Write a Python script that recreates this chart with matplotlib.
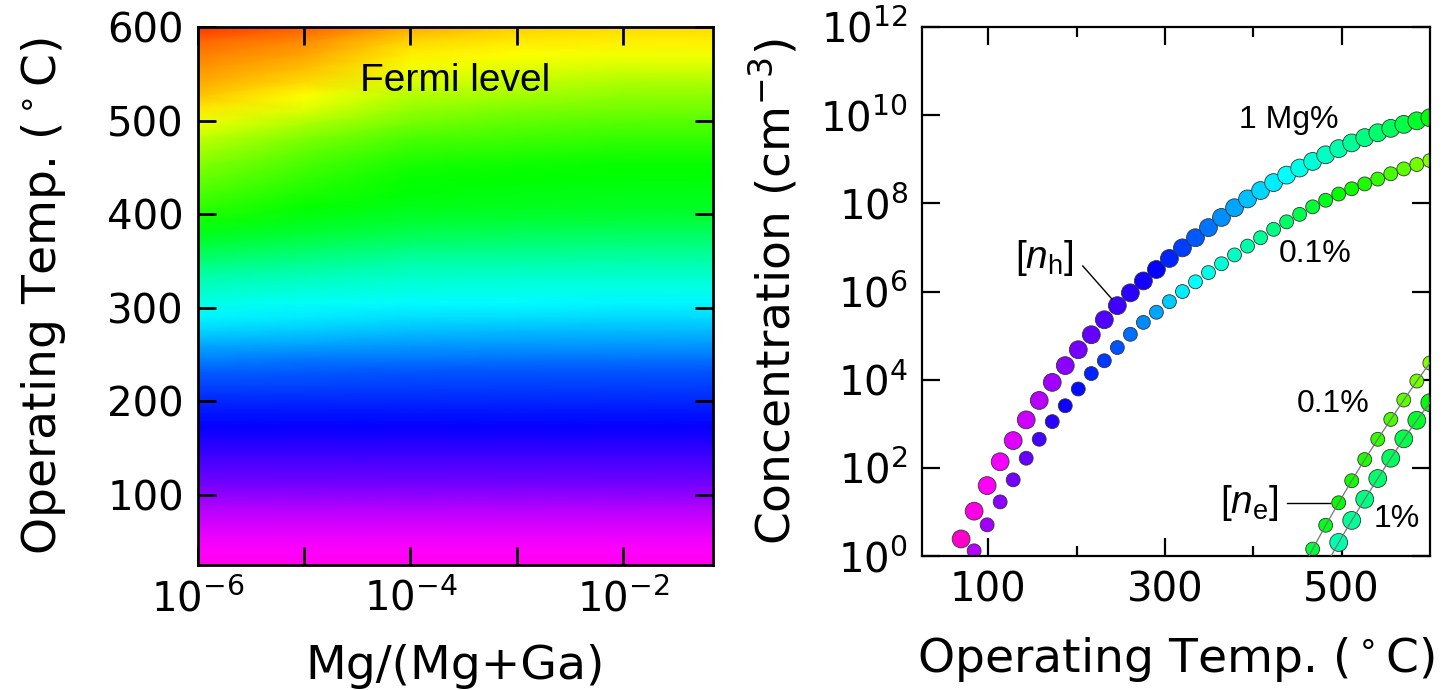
import numpy as np
import matplotlib
matplotlib.use('Agg')
from matplotlib import pyplot as plt
from matplotlib import ticker

plt.rcParams['font.family'] = 'DejaVu Sans'
plt.rcParams['mathtext.fontset'] = 'dejavusans'
plt.rcParams['mathtext.rm'] = 'Liberation Sans'
plt.rcParams['mathtext.it'] = 'Liberation Sans:italic'

# temperature grid shared by both panels (deg C)
temps = np.linspace(25, 600, 40)

# --- Fermi level map (eV), one column per Mg fraction ---
mg_frac = [1e-6, 1e-5, 1e-4, 1e-3, 1e-2, 7e-2]
ef_low = [0.035, 0.045, 0.06, 0.08, 0.10, 0.125, 0.15, 0.17, 0.19, 0.21, 0.23, 0.245, 0.26]
ef_1e6 = ef_low + [0.28, 0.30, 0.325, 0.355, 0.385, 0.41, 0.43, 0.455, 0.48, 0.515, 0.55, 0.58, 0.61, 0.635,
                   0.655, 0.675, 0.695, 0.715, 0.74, 0.77, 0.80, 0.825, 0.845, 0.86, 0.875, 0.895, 0.93]
ef_1e5 = ef_low + [0.278, 0.295, 0.32, 0.348, 0.375, 0.40, 0.42, 0.443, 0.465, 0.497, 0.53, 0.56, 0.585, 0.605,
                   0.62, 0.635, 0.65, 0.67, 0.695, 0.725, 0.76, 0.785, 0.81, 0.83, 0.85, 0.87, 0.90]
ef_1e4 = ef_low + [0.276, 0.292, 0.317, 0.342, 0.368, 0.393, 0.413, 0.434, 0.455, 0.48, 0.51, 0.54, 0.565, 0.585,
                   0.594, 0.605, 0.616, 0.634, 0.656, 0.68, 0.705, 0.73, 0.755, 0.775, 0.795, 0.815, 0.845]
ef_1e3 = ef_low + [0.275, 0.29, 0.316, 0.341, 0.366, 0.391, 0.411, 0.431, 0.452, 0.477, 0.505, 0.535, 0.56, 0.58,
                   0.588, 0.598, 0.607, 0.625, 0.645, 0.665, 0.69, 0.715, 0.74, 0.765, 0.785, 0.80, 0.82]
ef_1e2 = ef_low + [0.275, 0.29, 0.315, 0.34, 0.365, 0.39, 0.41, 0.43, 0.45, 0.475, 0.50, 0.53, 0.555, 0.575,
                   0.585, 0.595, 0.603, 0.62, 0.64, 0.66, 0.68, 0.70, 0.725, 0.75, 0.775, 0.795, 0.81]
ef_7e2 = ef_low + [0.275, 0.29, 0.315, 0.34, 0.365, 0.39, 0.41, 0.43, 0.45, 0.475, 0.50, 0.53, 0.555, 0.575,
                   0.585, 0.595, 0.603, 0.62, 0.64, 0.66, 0.68, 0.70, 0.725, 0.75, 0.775, 0.795, 0.81]

# --- carrier concentrations, log10(cm^-3) ---
# holes, 1 Mg% from temps[3], 0.1 Mg% from temps[4]
nh_1pct = [0.39, 1.02, 1.60, 2.14, 2.62, 3.09, 3.53, 3.94, 4.32, 4.68, 5.02, 5.36, 5.68, 5.97, 6.24, 6.50,
           6.75, 6.99, 7.22, 7.45, 7.68, 7.90, 8.10, 8.29, 8.47, 8.64, 8.80, 8.95, 9.10, 9.24, 9.37, 9.49,
           9.60, 9.70, 9.79, 9.87, 9.94]
nh_01pct = [0.12, 0.71, 1.23, 1.73, 2.22, 2.65, 3.05, 3.41, 3.79, 4.14, 4.43, 4.73, 5.03, 5.30, 5.53, 5.77,
            6.00, 6.22, 6.43, 6.63, 6.83, 7.03, 7.22, 7.41, 7.58, 7.75, 7.92, 8.07, 8.21, 8.33, 8.44, 8.55,
            8.67, 8.78, 8.88, 8.97]
# electrons, 0.1 Mg% from temps[29], 1 Mg% from temps[31]
ne_01pct = [-0.41, 0.16, 0.70, 1.21, 1.71, 2.19, 2.65, 3.10, 3.54, 3.97, 4.38]
ne_1pct = [-0.22, 0.31, 0.81, 1.29, 1.76, 2.22, 2.66, 3.08, 3.48]

# Fermi level (eV) used to colour the points
ef_1pct = [0.31, 0.33, 0.34, 0.355, 0.37, 0.385, 0.40, 0.415, 0.43, 0.445, 0.46, 0.475, 0.485, 0.50, 0.515,
           0.53, 0.555, 0.575, 0.595, 0.615, 0.635, 0.65, 0.67, 0.685, 0.70, 0.715, 0.73, 0.745, 0.76,
           0.775, 0.79, 0.805, 0.82, 0.835, 0.85, 0.87, 0.89]
ef_01pct = [0.40, 0.415, 0.43, 0.445, 0.46, 0.48, 0.50, 0.52, 0.54, 0.555, 0.57, 0.59, 0.61, 0.63, 0.65,
            0.675, 0.70, 0.715, 0.73, 0.745, 0.76, 0.775, 0.79, 0.805, 0.825, 0.845, 0.86, 0.88, 0.90,
            0.91, 0.92, 0.935, 0.95, 0.965, 0.98, 0.995]

cmap = 'gist_rainbow_r'

fig = plt.figure(figsize=(14.55, 6.9), dpi=100)
ax1 = fig.add_axes([0.136, 0.181, 0.354, 0.780])
ax2 = fig.add_axes([0.6337, 0.194, 0.349, 0.767])

# left: Fermi level map
fermi_map = np.column_stack([ef_1e6, ef_1e5, ef_1e4, ef_1e3, ef_1e2, ef_7e2])
X, Y = np.meshgrid(mg_frac, temps)
ax1.set_xscale('log')
ax1.pcolormesh(X, Y, fermi_map, shading='gouraud', cmap=cmap, vmin=0.0, vmax=1.0, rasterized=True)
ax1.set_xlim(1e-6, 7e-2)
ax1.set_ylim(25, 600)
ax1.xaxis.set_major_locator(ticker.FixedLocator([1e-6, 1e-5, 1e-4, 1e-3, 1e-2]))
ax1.xaxis.set_major_formatter(ticker.FixedFormatter(['$10^{-6}$', '', '$10^{-4}$', '', '$10^{-2}$']))
ax1.xaxis.set_minor_locator(ticker.NullLocator())
ax1.set_yticks([100, 200, 300, 400, 500, 600])
ax1.text(0.5, 0.9, 'Fermi level', transform=ax1.transAxes, ha='center', va='center',
         fontsize=28, family='Liberation Sans')
ax1.set_xlabel('Mg/(Mg+Ga)', fontsize=34, labelpad=17)
ax1.set_ylabel(r'Operating Temp. ($^\circ$C)', fontsize=34, labelpad=28)

# right: carrier concentrations
norm = plt.Normalize(0.3, 1.3)
edge = dict(edgecolors='#333333', linewidths=0.6, cmap=cmap, norm=norm, zorder=2, clip_on=True)
ax2.scatter(temps[3:], 10.0 ** np.array(nh_1pct), s=165, c=ef_1pct, **edge)
ax2.scatter(temps[4:], 10.0 ** np.array(nh_01pct), s=100, c=ef_01pct, **edge)
ax2.scatter(temps[29:], 10.0 ** np.array(ne_01pct), s=100, c=ef_01pct[25:], **edge)
ax2.scatter(temps[31:], 10.0 ** np.array(ne_1pct), s=165, c=ef_1pct[28:], **edge)
ax2.plot(temps[29:], 10.0 ** np.array(ne_01pct), color='#777777', lw=0.9, zorder=3)
ax2.plot(temps[31:], 10.0 ** np.array(ne_1pct), color='#777777', lw=0.9, zorder=3)

ax2.set_yscale('log')
ax2.set_xlim(25, 600)
ax2.set_ylim(1, 1e12)
ax2.set_xticks([100, 300, 500])
ax2.set_xticks([200, 400], minor=True)
ax2.yaxis.set_major_locator(ticker.FixedLocator([10.0 ** k for k in range(0, 13, 2)]))
ax2.yaxis.set_major_formatter(ticker.FixedFormatter(['$10^{%d}$' % k for k in range(0, 13, 2)]))
ax2.yaxis.set_minor_locator(ticker.NullLocator())

lab = dict(fontsize=23, family='Liberation Sans', ha='center', va='center')
ax2.text(440, 10 ** 9.9, '1 Mg%', **lab)
ax2.text(470, 10 ** 6.85, '0.1%', **lab)
ax2.text(490, 10 ** 3.45, '0.1%', **lab)
ax2.text(563, 10 ** 0.85, '1%', **lab)
ax2.text(164, 10 ** 6.76, r'$[n_\mathrm{h}]$', fontsize=28, ha='center', va='center', math_fontfamily='custom')
ax2.text(396, 10 ** 1.2, r'$[n_\mathrm{e}]$', fontsize=28, ha='center', va='center', math_fontfamily='custom')
ax2.plot([207, 240], [10 ** 6.58, 10 ** 5.83], color='black', lw=1.0, zorder=4)
ax2.plot([438, 487], [10 ** 1.21, 10 ** 1.21], color='black', lw=1.0, zorder=4)

ax2.set_xlabel(r'Operating Temp. ($^\circ$C)', fontsize=34, labelpad=18)
ax2.set_ylabel(r'Concentration (cm$^{-3}$)', fontsize=34, labelpad=15)

for ax, lw in ((ax1, 2.0), (ax2, 1.6)):
    for sp in ax.spines.values():
        sp.set_linewidth(lw)
    ax.tick_params(which='both', direction='in', top=True, right=True, labelsize=29, width=lw, pad=10)
    ax.tick_params(which='major', length=13)
    ax.tick_params(which='minor', length=7)

fig.savefig('out.png', dpi=100)
